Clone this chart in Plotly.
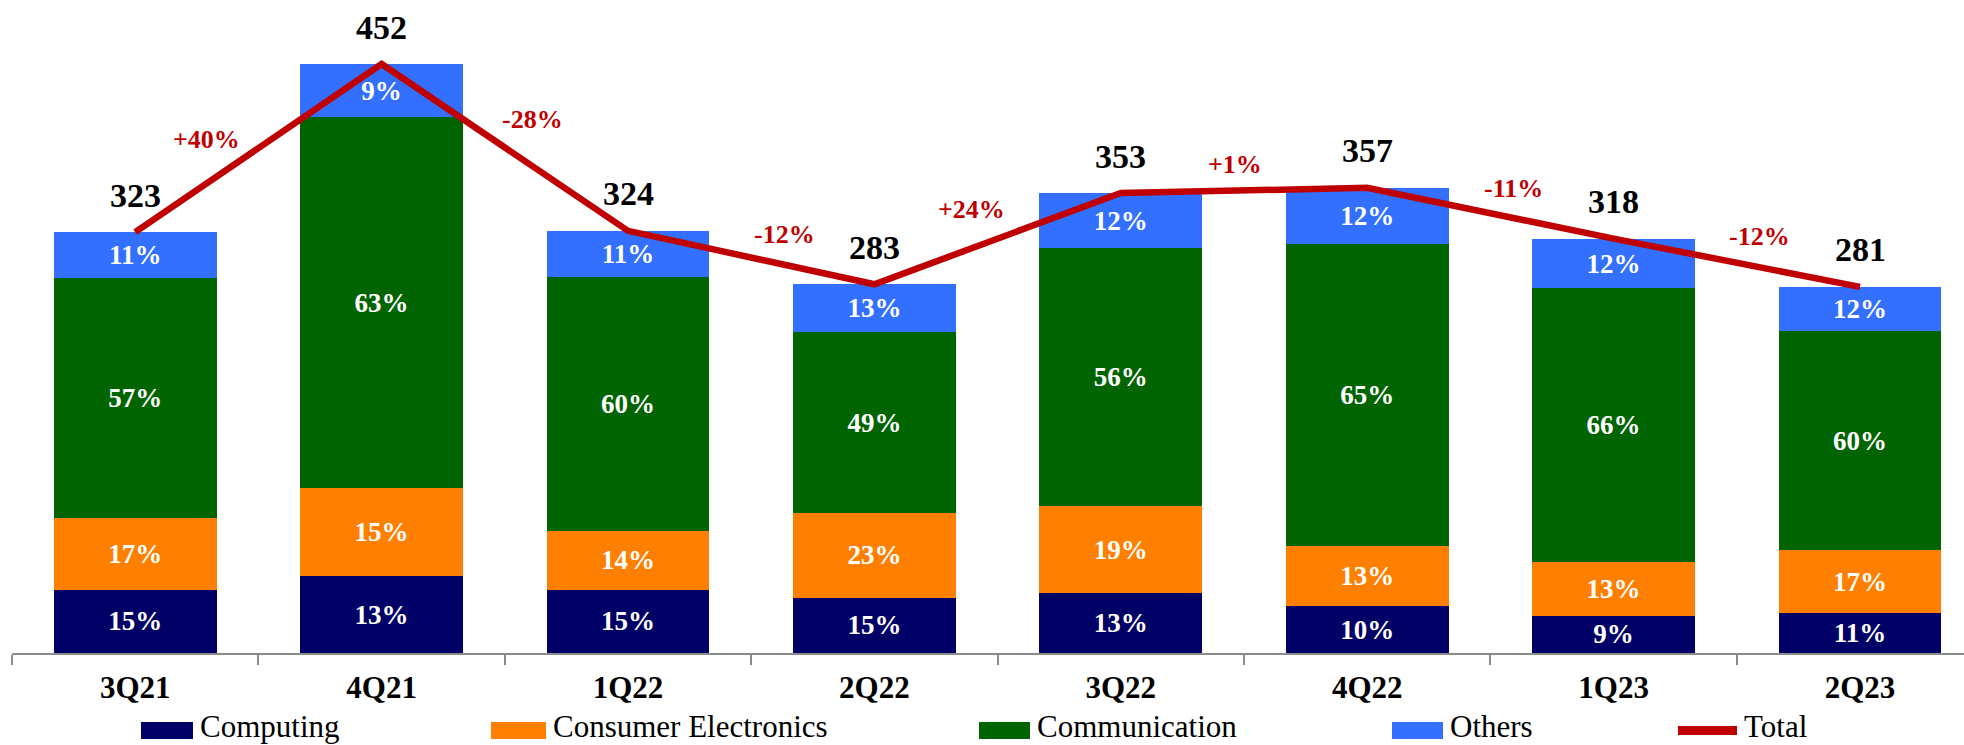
import plotly.graph_objects as go

# Quarterly revenue split by segment (share of total, %) and total revenue
quarters = ["3Q21", "4Q21", "1Q22", "2Q22", "3Q22", "4Q22", "1Q23", "2Q23"]
totals = [323, 452, 324, 283, 353, 357, 318, 281]
computing_pct = [15, 13, 15, 15, 13, 10, 9, 11]
consumer_pct = [17, 15, 14, 23, 19, 13, 13, 17]
communication_pct = [57, 63, 60, 49, 56, 65, 66, 60]
others_pct = [11, 9, 11, 13, 12, 12, 12, 12]
qoq_growth = [40, -28, -12, 24, 1, -11, -12]

FONT = "Liberation Serif"
W, H = 1964, 745
ML, MR, MT, MB = 12, 0, 0, 92
PLOT_W = W - ML - MR
PLOT_H = H - MT - MB

segments = [
    ("Computing", computing_pct, "#000066"),
    ("Consumer Electronics", consumer_pct, "#FF8000"),
    ("Communication", communication_pct, "#006400"),
    ("Others", others_pct, "#3370FF"),
]
LINE_COLOR = "#C00000"

fig = go.Figure()

for name, pct, color in segments:
    fig.add_trace(go.Bar(
        name=name,
        x=quarters,
        y=[p / 100 * t for p, t in zip(pct, totals)],
        customdata=pct,
        texttemplate="%{customdata}%",
        textposition="inside",
        insidetextanchor="middle",
        textangle=0,
        textfont=dict(family=FONT, size=27, color="white", weight="bold"),
        marker=dict(color=color, line=dict(width=0)),
        width=0.66,
        showlegend=False,
    ))

fig.add_trace(go.Scatter(
    name="Total",
    x=quarters,
    y=totals,
    mode="lines",
    line=dict(color=LINE_COLOR, width=6.5),
    showlegend=False,
))

# Total value above each bar
for q, t in zip(quarters, totals):
    fig.add_annotation(
        x=q, y=t, text=str(t), showarrow=False,
        yanchor="middle", yshift=37,
        font=dict(family=FONT, size=34, color="black", weight="bold"),
    )

# Quarter-on-quarter change, placed beside each line segment
growth_label_offsets = [(-52, 9), (28, 28), (33, 23), (-26, 29), (-9, 26), (23, 25), (23, 26)]
for i, g in enumerate(qoq_growth):
    dx, dy = growth_label_offsets[i]
    fig.add_annotation(
        x=i + 0.5, y=(totals[i] + totals[i + 1]) / 2,
        text=f"{g:+d}%", showarrow=False,
        xanchor="center", yanchor="middle", xshift=dx, yshift=dy,
        font=dict(family=FONT, size=26, color=LINE_COLOR, weight="bold"),
    )

# Legend row along the bottom edge
def px_to_paper_x(px):
    return (px - ML) / PLOT_W

def px_to_paper_y(py):
    return (H - MB - py) / PLOT_H

legend_items = [
    ("Computing", "#000066", "box", 141, 193),
    ("Consumer Electronics", "#FF8000", "box", 491, 546),
    ("Communication", "#006400", "box", 979, 1030),
    ("Others", "#3370FF", "box", 1392, 1443),
    ("Total", LINE_COLOR, "line", 1678, 1737),
]
for label, color, kind, x0, x1 in legend_items:
    if kind == "box":
        y0, y1 = 722, 739
    else:
        y0, y1 = 726, 735
    fig.add_shape(
        type="rect", xref="paper", yref="paper",
        x0=px_to_paper_x(x0), x1=px_to_paper_x(x1),
        y0=px_to_paper_y(y1), y1=px_to_paper_y(y0),
        fillcolor=color, line=dict(width=0),
    )
    fig.add_annotation(
        xref="paper", yref="paper",
        x=px_to_paper_x(x1 + 5), y=px_to_paper_y(726),
        text=label, showarrow=False,
        xanchor="left", yanchor="middle",
        font=dict(family=FONT, size=31, color="black"),
    )

fig.update_layout(
    width=W, height=H,
    margin=dict(l=ML, r=MR, t=MT, b=MB),
    barmode="stack",
    bargap=0.34,
    plot_bgcolor="white",
    paper_bgcolor="white",
    showlegend=False,
    xaxis=dict(
        type="category",
        range=[-0.5, -0.5 + PLOT_W / 246.4],
        showline=True, linecolor="#8C8C8C", linewidth=2,
        ticks="outside", tickson="boundaries", ticklen=10,
        tickcolor="#8C8C8C", tickwidth=2,
        tickfont=dict(family=FONT, size=31, color="black", weight="bold"),
        ticklabelstandoff=6,
        showgrid=False, zeroline=False, fixedrange=True,
    ),
    yaxis=dict(
        range=[0, PLOT_H / 1.303],
        visible=False, showgrid=False, zeroline=False, fixedrange=True,
    ),
)

fig.write_html("out.html")
